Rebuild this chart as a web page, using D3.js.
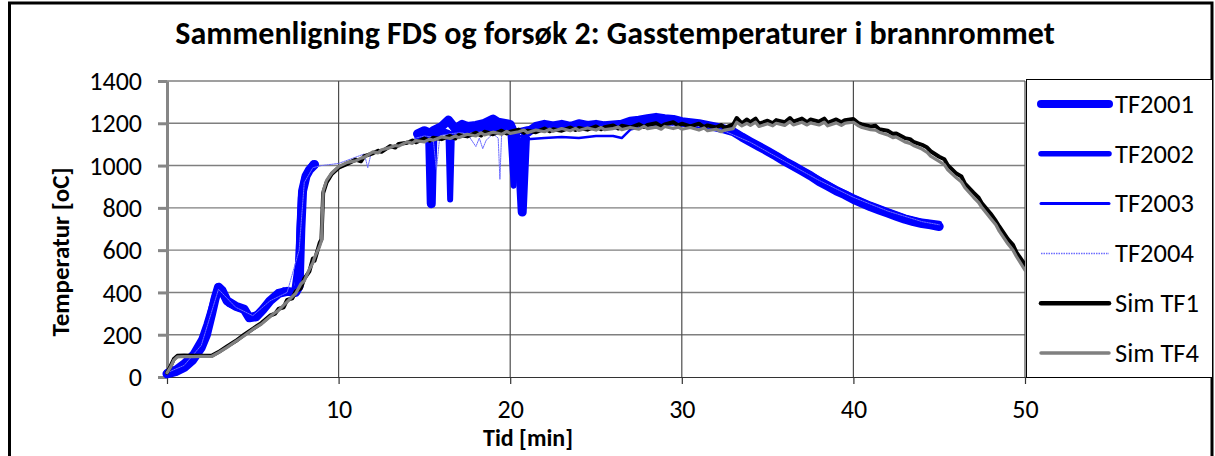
<!DOCTYPE html>
<html>
<head>
<meta charset="utf-8">
<script src="https://cdn.jsdelivr.net/npm/d3@7"></script>
<style>
  body { margin: 0; background: #fff; }
  text { font-family: Carlito, "Open Sans", "Noto Sans", sans-serif; fill: #000; }
</style>
</head>
<body>
<div id="chart"></div>
<script>

// Data (time [min], temperature [oC])
//------------------------------------
var tf2001 = [[0,15],[0.5,25],[1,45],[1.5,80],[2,140],[2.3,200],[2.6,300],[2.8,370],[3.0,425],[3.2,410],[3.5,360],[4,335],[4.5,320],[4.8,280],[5.2,285],[5.6,320],[6,360],[6.5,395],[7,405],[7.5,400],[7.7,430],[7.8,700],[7.9,880],[8.1,950],[8.3,980],[8.6,1005],[11,null],
  [14.6,1150],[15,1165],[15.3,1155],[15.4,820],[15.5,1165],[16,1185],[16.4,1215],[16.8,1175],[17.2,1195],[17.5,1185],[18,1190],[18.5,1200],[19,1220],[19.3,1205],[20,1195],[20.5,1100],[20.7,780],[20.9,1150],[21.5,1185],[22,1195],[22.5,1188],[23,1195],[23.5,1185],[24,1198],[24.5,1190],[25,1195],[25.5,1188],[26,1192],[26.5,1195],[27,1210],[27.5,1215],[28,1222],[28.5,1228],[29,1222],[29.5,1218],[30,1208],[31,1198],[32,1182],[32.5,1172],[33,1160],[33.5,1135],[34,1112],[34.5,1090],[35,1068],[35.5,1045],[36,1020],[36.5,998],[37,975],[37.5,952],[38,925],[38.5,903],[39,880],[39.5,862],[40,840],[40.5,822],[41,805],[41.5,790],[42,775],[42.5,760],[43,746],[43.5,735],[44,726],[44.5,720],[45,712]];

var tf2002 = [[0,25],[0.5,40],[1,70],[1.5,110],[2,180],[2.3,250],[2.6,330],[2.8,390],[3.0,430],[3.3,390],[3.6,345],[4,330],[4.5,315],[4.8,285],[5.3,300],[5.8,340],[6.3,380],[6.8,410],[7.3,395],[7.6,420],[7.7,650],[7.8,850],[8.0,940],[8.3,985],[8.5,1010],[11,null],
  [14.6,1130],[15,1150],[15.5,1145],[16,1165],[16.4,1155],[16.5,840],[16.6,1145],[17,1175],[17.5,1165],[18,1180],[18.5,1172],[19,1188],[19.5,1182],[20,1172],[20.2,905],[20.4,1160],[21,1172],[22,1182],[23,1178],[24,1188],[25,1182],[26,1192],[27,1188],[27.5,1198],[28,1208],[28.5,1212],[29,1206],[30,1200],[31,1195],[32,1185],[32.5,1175],[33,1165],[33.5,1140],[34,1115],[34.5,1095],[35,1070],[35.5,1050],[36,1025],[37,980],[38,935],[39,890],[40,850],[41,815],[42,785],[43,755],[44,735],[45,725]];

var tf2003 = [[0,20],[1,60],[2,160],[2.5,280],[3,420],[3.5,350],[4,330],[4.7,290],[5.5,310],[6.5,390],[7.3,400],[7.7,640],[8,930],[8.5,1000],[11,null],
  [14.6,1120],[15,1140],[15.6,1130],[16,1150],[17,1160],[18,1165],[19,1170],[20,1160],[21,1125],[22,1130],[23,1135],[24,1130],[25,1140],[26,1140],[26.5,1130],[27,1170],[28,1190],[29,1195],[30,1190],[31,1190],[32,1180],[33,1160],[34,1115],[35,1070],[36,1025],[37,980],[38,935],[39,895],[40,855],[41,820],[42,790],[43,760],[44,740],[45,720]];

var tf2004 = [[0,20],[1,55],[2,150],[3,415],[4,330],[5,290],[6,360],[7,400],[7.7,600],[8,920],[8.5,990],[9,1000],[9.5,1005],[10,1010],[10.5,1025],[11,1040],[11.5,1055],[11.7,990],[11.9,1060],[12.5,1075],[13,1090],[13.5,1100],[14,1110],[14.5,1130],[15,1140],[15.5,1135],[15.7,980],[15.9,1140],[16.5,1150],[17,1155],[17.5,1150],[18,1090],[18.2,1130],[18.4,1080],[18.6,1120],[19,1150],[19.3,1130],[19.4,935],[19.5,1150],[20,1160],[21,1165],[22,1170],[24,1175],[26,1180],[28,1185],[30,1190],[32,1180],[34,1110],[36,1020],[38,930],[40,850],[42,785],[44,735],[45,720]];

var simTF1 = [[0,20],[0.2,50],[0.4,85],[0.6,100],[1,102],[1.5,100],[2,101],[2.6,100],[3,118],[3.5,145],[4,170],[4.5,200],[5,228],[5.5,255],[6,290],[6.3,300],[6.5,322],[6.8,330],[7,365],[7.3,372],[7.5,405],[7.8,420],[8,465],[8.3,500],[8.5,560],[8.6,550],[8.9,635],[9.0,650],[9.1,870],[9.3,920],[9.6,960],[10,990],[10.5,1008],[11,1028],[11.3,1020],[11.5,1045],[12,1058],[12.3,1070],[12.5,1065],[13,1092],[13.3,1085],[13.5,1102],[14,1108],[14.3,1118],[14.5,1110],[15,1128],[15.3,1118],[15.5,1132],[16,1125],[16.5,1140],[16.8,1128],[17,1145],[17.5,1138],[18,1155],[18.3,1142],[18.5,1160],[19,1148],[19.5,1165],[19.8,1152],[20,1160],[20.5,1170],[20.8,1155],[21,1165],[21.5,1158],[22,1175],[22.3,1162],[22.5,1172],[23,1165],[23.5,1180],[23.8,1168],[24,1178],[24.5,1170],[25,1185],[25.3,1172],[25.5,1182],[26,1190],[26.3,1175],[26.5,1188],[27,1180],[27.5,1195],[27.8,1182],[28,1192],[28.5,1200],[28.8,1185],[29,1195],[29.5,1205],[29.8,1190],[30,1198],[30.5,1185],[31,1198],[31.3,1182],[31.5,1190],[32,1180],[32.3,1192],[32.5,1178],[33,1195],[33.2,1225],[33.5,1200],[33.8,1218],[34,1205],[34.3,1222],[34.5,1198],[35,1212],[35.3,1200],[35.5,1215],[36,1205],[36.3,1225],[36.5,1208],[37,1222],[37.3,1205],[37.5,1218],[38,1208],[38.3,1222],[38.5,1202],[39,1218],[39.3,1205],[39.5,1215],[40,1220],[40.3,1200],[40.5,1195],[41,1185],[41.3,1188],[41.5,1172],[42,1165],[42.3,1150],[42.5,1152],[43,1130],[43.3,1125],[43.5,1112],[44,1098],[44.3,1085],[44.5,1068],[45,1042],[45.3,1030],[45.5,1002],[46,962],[46.3,948],[46.5,915],[47,872],[47.3,848],[47.5,820],[48,772],[48.3,738],[48.5,712],[49,652],[49.3,625],[49.5,590],[50,530]];

var simTF4 = [[0,20],[0.2,45],[0.4,80],[0.6,95],[1,97],[1.5,96],[2,98],[2.6,97],[3,115],[3.5,140],[4,168],[4.5,195],[5,225],[5.5,250],[6,285],[6.3,305],[6.5,315],[6.8,340],[7,355],[7.3,380],[7.5,395],[7.8,440],[8,455],[8.3,510],[8.5,540],[8.6,565],[8.9,620],[9.0,645],[9.1,880],[9.3,930],[9.6,965],[10,995],[10.5,1015],[11,1022],[11.3,1035],[11.5,1040],[12,1065],[12.3,1060],[12.5,1075],[13,1085],[13.3,1095],[13.5,1092],[14,1112],[14.3,1105],[14.5,1118],[15,1112],[15.3,1125],[15.5,1120],[16,1135],[16.5,1128],[16.8,1140],[17,1132],[17.5,1148],[18,1140],[18.3,1155],[18.5,1145],[19,1158],[19.5,1148],[19.8,1162],[20,1152],[20.5,1160],[20.8,1168],[21,1155],[21.5,1168],[22,1160],[22.3,1172],[22.5,1162],[23,1175],[23.5,1165],[23.8,1176],[24,1166],[24.5,1178],[25,1168],[25.3,1180],[25.5,1170],[26,1175],[26.3,1182],[26.5,1170],[27,1180],[27.5,1172],[27.8,1185],[28,1175],[28.5,1182],[28.8,1172],[29,1185],[29.5,1175],[29.8,1182],[30,1172],[30.5,1180],[31,1168],[31.3,1178],[31.5,1165],[32,1172],[32.3,1160],[32.5,1168],[33,1175],[33.2,1205],[33.5,1188],[33.8,1200],[34,1190],[34.3,1205],[34.5,1185],[35,1198],[35.3,1188],[35.5,1200],[36,1190],[36.3,1208],[36.5,1192],[37,1205],[37.3,1192],[37.5,1202],[38,1192],[38.3,1205],[38.5,1188],[39,1202],[39.3,1190],[39.5,1200],[40,1205],[40.3,1188],[40.5,1180],[41,1170],[41.3,1168],[41.5,1158],[42,1145],[42.3,1132],[42.5,1135],[43,1112],[43.3,1105],[43.5,1095],[44,1078],[44.3,1062],[44.5,1045],[45,1020],[45.3,1005],[45.5,980],[46,942],[46.3,922],[46.5,895],[47,850],[47.3,825],[47.5,800],[48,750],[48.3,720],[48.5,690],[49,630],[49.3,600],[49.5,570],[50,505]];

var seriesNames = ["TF2001", "TF2002", "TF2003", "TF2004", "Sim TF1", "Sim TF4"];
var xTicks = [0, 10, 20, 30, 40, 50];
var yTicks = [0, 200, 400, 600, 800, 1000, 1200, 1400];

// line look per series, same order as seriesNames
var seriesData = [tf2001, tf2002, tf2003, tf2004, simTF1, simTF4];
var seriesStyle = [
  {color: "#0000ff", width: 9, legendWidth: 8, dash: null},
  {color: "#0000ff", width: 6, legendWidth: 5.5, dash: null},
  {color: "#0000ff", width: 2.5, legendWidth: 3, dash: null},
  {color: "#6b6bff", width: 1, legendWidth: 1.5, dash: "1.5,1"},
  {color: "#000000", width: 4, legendWidth: 4.5, dash: null},
  {color: "#808080", width: 3.2, legendWidth: 3.5, dash: null}
];

// Sizing parameters
//------------------
var svgWidth = 1215;
var svgHeight = 456;

var margin = {top: 81, left: 167};
var width = 858;
var height = 296;

var svg = d3.select("#chart")
  .append("svg")
  .attr("width", svgWidth)
  .attr("height", svgHeight);

svg.append("rect")
  .attr("width", svgWidth)
  .attr("height", svgHeight)
  .attr("fill", "#fff");

// outer frame
svg.append("path")
  .attr("d", "M9.5,470 V3 H1212 V470")
  .attr("fill", "none")
  .attr("stroke", "#000")
  .attr("stroke-width", 3);

var chartGroup = svg.append("g")
  .attr("transform", `translate(${margin.left}, ${margin.top})`);

// Scales
//-------
var xLinearScale = d3.scaleLinear().domain([0, 50]).range([0, width]);
var yLinearScale = d3.scaleLinear().domain([0, 1400]).range([height, 0]);

// grid lines
chartGroup.append("g")
  .selectAll("line")
  .data(yTicks.slice(1))
  .enter()
  .append("line")
  .attr("x1", 0)
  .attr("x2", width)
  .attr("y1", d => yLinearScale(d))
  .attr("y2", d => yLinearScale(d))
  .attr("stroke", "#7f7f7f")
  .attr("stroke-width", 1.4);

chartGroup.append("g")
  .selectAll("line")
  .data(xTicks.slice(1))
  .enter()
  .append("line")
  .attr("x1", d => xLinearScale(d))
  .attr("x2", d => xLinearScale(d))
  .attr("y1", 0)
  .attr("y2", height)
  .attr("stroke", "#4d4d4d")
  .attr("stroke-width", 1.2);

// axes
var bottomAxis = d3.axisBottom(xLinearScale)
  .tickValues(xTicks)
  .tickFormat(d3.format("d"))
  .tickSize(7)
  .tickSizeOuter(0)
  .tickPadding(18);

var leftAxis = d3.axisLeft(yLinearScale)
  .tickValues(yTicks)
  .tickFormat(d3.format("d"))
  .tickSize(9)
  .tickSizeOuter(0)
  .tickPadding(16);

var xAxis = chartGroup.append("g")
  .attr("transform", `translate(0, ${height})`)
  .call(bottomAxis);
xAxis.select(".domain").attr("stroke", "#333").attr("stroke-width", 1.2);
xAxis.selectAll(".tick line").attr("stroke", "#333").attr("stroke-width", 1.2);

var yAxis = chartGroup.append("g")
  .call(leftAxis);
yAxis.select(".domain").attr("stroke", "#868686").attr("stroke-width", 3);
yAxis.selectAll(".tick line").attr("stroke", "#868686").attr("stroke-width", 3);

svg.selectAll(".tick text")
  .attr("font-size", 26)
  .attr("font-family", null);
yAxis.selectAll(".tick text").attr("dy", "0.33em");
xAxis.selectAll(".tick text").attr("dy", "0.62em");

// Lines
//------
var line = d3.line()
  .defined(d => d[1] !== null)
  .x(d => xLinearScale(d[0]))
  .y(d => yLinearScale(d[1]));

svg.append("clipPath").attr("id", "plotclip")
  .append("rect")
  .attr("x", -10).attr("y", -10)
  .attr("width", width + 10).attr("height", height + 20);

chartGroup.append("g")
  .attr("clip-path", "url(#plotclip)")
  .selectAll("path")
  .data(seriesData)
  .enter()
  .append("path")
  .attr("d", d => line(d))
  .attr("fill", "none")
  .attr("stroke", (d, i) => seriesStyle[i].color)
  .attr("stroke-width", (d, i) => seriesStyle[i].width)
  .attr("stroke-dasharray", (d, i) => seriesStyle[i].dash)
  .attr("stroke-linejoin", "round")
  .attr("stroke-linecap", "round");

// Title and axis labels
//----------------------
svg.append("text")
  .attr("x", 615)
  .attr("y", 44)
  .attr("text-anchor", "middle")
  .attr("font-size", 32)
  .attr("font-weight", "bold")
  .text("Sammenligning FDS og forsøk 2: Gasstemperaturer i brannrommet");

svg.append("text")
  .attr("x", 528)
  .attr("y", 446)
  .attr("text-anchor", "middle")
  .attr("font-size", 24)
  .attr("font-weight", "bold")
  .text("Tid [min]");

svg.append("text")
  .attr("transform", "translate(69, 252) rotate(-90)")
  .attr("text-anchor", "middle")
  .attr("font-size", 25)
  .attr("font-weight", "bold")
  .text("Temperatur [oC]");

// Legend
//-------
var legend = svg.append("g");

legend.append("rect")
  .attr("x", 1026.5)
  .attr("y", 79.5)
  .attr("width", 186)
  .attr("height", 298)
  .attr("fill", "#fff")
  .attr("stroke", "#000")
  .attr("stroke-width", 1);

var legendRows = legend.selectAll(".row")
  .data(seriesNames)
  .enter()
  .append("g")
  .attr("class", "row")
  .attr("transform", (d, i) => `translate(0, ${104 + i * 49.8})`);

legendRows.append("line")
  .attr("x1", 1041)
  .attr("x2", 1109)
  .attr("stroke", (d, i) => seriesStyle[i].color)
  .attr("stroke-width", (d, i) => seriesStyle[i].legendWidth)
  .attr("stroke-dasharray", (d, i) => seriesStyle[i].dash)
  .attr("stroke-linecap", (d, i) => seriesStyle[i].dash ? "butt" : "round");

legendRows.append("text")
  .attr("x", 1115)
  .attr("dy", "0.33em")
  .attr("font-size", 26.5)
  .text(d => d);

</script>
</body>
</html>
